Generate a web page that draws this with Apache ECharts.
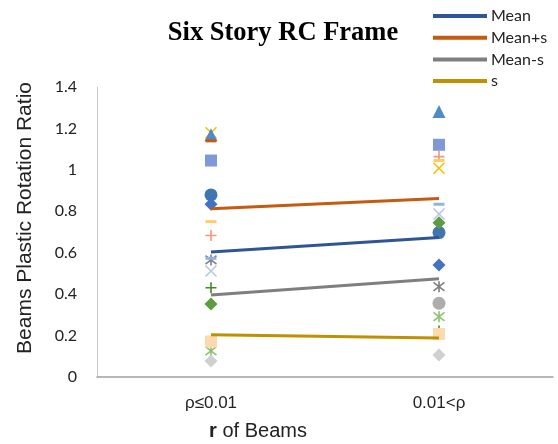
<!DOCTYPE html>
<html>
<head>
<meta charset="utf-8">
<script src="https://cdn.jsdelivr.net/npm/echarts@6/dist/echarts.min.js"></script>
<style>
html,body{margin:0;padding:0;background:#fff;}
#chart{width:558px;height:444px;}
</style>
</head>
<body>
<div id="chart"></div>
<script>
// Categories and tick labels
const categories = ['ρ≤0.01', '0.01<ρ'];
const yTicks = [0, 0.2, 0.4, 0.6, 0.8, 1, 1.2, 1.4];

// Statistic line series
const meanVals = [0.603, 0.673];
const meanPlusSVals = [0.812, 0.862];
const meanMinusSVals = [0.396, 0.474];
const sVals = [0.204, 0.188];

// Individual scatter series (left, right)
const yellowX = [1.179, 1.008];
const blueTriangle = [1.169, 1.282];
const orangeDash = [1.14, null];
const blueCircle = [0.879, 0.697];
const blueDiamond = [0.834, 0.541];
const grayCircle = [null, 0.356];
const grayStar = [0.565, 0.436];
const lightBlueDash = [0.573, 0.834];
const lavenderX = [0.512, 0.787];
const lightGreenStar = [0.126, 0.291];
const greenPlus = [0.431, 0.222];
const peachSquare = [0.171, 0.208];
const greenDiamond = [0.353, 0.745];
const grayDiamond = [0.077, 0.106];
const blueSquare = [1.045, 1.121];
const orangePlus = [0.683, 1.064];
const yellowDash = [0.75, 1.045];

const X_PATH = 'path://M0,0L10,10M10,0L0,10';
const STAR_PATH = 'path://M0,0L10,10M10,0L0,10M5,-1.5L5,11.5';
const PLUS_PATH = 'path://M5,0L5,10M0,5L10,5';

function filled(name, data, symbol, size, color) {
  return {
    name: name, type: 'scatter', data: data, symbol: symbol, symbolSize: size,
    itemStyle: { color: color, opacity: 1 }, z: 2
  };
}
function stroked(name, data, symbol, size, color) {
  return {
    name: name, type: 'scatter', data: data, symbol: symbol, symbolSize: size,
    itemStyle: { color: 'rgba(0,0,0,0)', borderColor: color, borderWidth: 1.6, opacity: 1 }, z: 2
  };
}
function statLine(name, data, color) {
  return {
    name: name, type: 'line', data: data, symbol: 'none',
    lineStyle: { color: color, width: 3 }, itemStyle: { color: color }, z: 3
  };
}

const chart = echarts.init(document.getElementById('chart'));
chart.setOption({
  animation: false,
  backgroundColor: '#ffffff',
  grid: { left: 97, right: 5, top: 87, bottom: 67 },
  legend: {
    data: ['Mean', 'Mean+s', 'Mean-s', 's'],
    orient: 'vertical',
    left: 433, top: 8, padding: 0,
    itemWidth: 54, itemHeight: 4, itemGap: 5.7,
    icon: 'rect',
    textStyle: { fontFamily: 'Lato', fontSize: 16, color: '#222', lineHeight: 16, padding: [0,0,0,-1] },
    selectedMode: false
  },
  xAxis: {
    type: 'category', data: categories, boundaryGap: true,
    axisLine: { lineStyle: { color: '#a0a0a0', width: 1.5 } },
    axisTick: { show: false },
    axisLabel: { fontFamily: 'Liberation Sans', fontSize: 17, color: '#222', margin: 18 }
  },
  yAxis: {
    type: 'value', min: 0, max: 1.4, interval: 0.2,
    axisLine: { show: true, lineStyle: { color: '#c8c8c8', width: 1 } },
    axisTick: { show: false },
    splitLine: { show: false },
    axisLabel: {
      fontFamily: 'Lato', fontSize: 16, color: '#222', margin: 20,
      formatter: function (v) {
        const t = yTicks.find(function (k) { return Math.abs(k - v) < 1e-6; });
        return t === undefined ? '' : String(t);
      }
    }
  },
  graphic: [
    { type: 'text', x: 283, y: 33, silent: true,
      style: { text: 'Six Story RC Frame', fontFamily: 'Liberation Serif', fontWeight: 'bold', fontSize: 26.5,
               fill: '#000', textAlign: 'center', textVerticalAlign: 'middle' } },
    { type: 'text', x: 25, y: 218, rotation: Math.PI / 2, silent: true,
      style: { text: 'Beams Plastic Rotation Ratio', fontFamily: 'Liberation Sans', fontSize: 21,
               fill: '#222', textAlign: 'center', textVerticalAlign: 'middle' } },
    { type: 'text', x: 258, y: 431, silent: true,
      style: { text: '{b|r} of Beams', fontFamily: 'Liberation Sans', fontSize: 20, fill: '#222',
               textAlign: 'center', textVerticalAlign: 'middle',
               rich: { b: { fontWeight: 'bold', fontFamily: 'Liberation Sans', fontSize: 20, fill: '#222' } } } }
  ],
  series: [
    stroked('Frame A', yellowX, X_PATH, 11, '#FFC000'),
    filled('Frame B', blueTriangle, 'triangle', 13, '#4F8BCB'),
    filled('Frame C', orangeDash, 'rect', [11, 3], '#C55A11'),
    filled('Frame D', blueCircle, 'circle', 13, '#3F76AE'),
    filled('Frame E', blueDiamond, 'diamond', 13, '#4472C4'),
    filled('Frame F', grayCircle, 'circle', 13, '#ADADAD'),
    stroked('Frame G', grayStar, STAR_PATH, 11, '#7F7F7F'),
    filled('Frame H', lightBlueDash, 'rect', [11, 3], '#8EB4E3'),
    stroked('Frame I', lavenderX, X_PATH, 11, '#B4C7E7'),
    stroked('Frame J', lightGreenStar, STAR_PATH, 11, '#8CC46E'),
    stroked('Frame K', greenPlus, PLUS_PATH, 11, '#3E8A2A'),
    filled('Frame L', peachSquare, 'rect', 12, '#FDD9AE'),
    filled('Frame M', greenDiamond, 'diamond', 13, '#5E9C3F'),
    filled('Frame N', grayDiamond, 'diamond', 13, '#D0D0D0'),
    filled('Frame O', blueSquare, 'rect', 12, '#7F98D6'),
    stroked('Frame P', orangePlus, PLUS_PATH, 11, '#F4977A'),
    filled('Frame Q', yellowDash, 'rect', [11, 3], '#FFCC66'),
    statLine('Mean', meanVals, '#2F5597'),
    statLine('Mean+s', meanPlusSVals, '#C55A11'),
    statLine('Mean-s', meanMinusSVals, '#7F7F7F'),
    statLine('s', sVals, '#BF9000')
  ]
});
</script>
</body>
</html>
